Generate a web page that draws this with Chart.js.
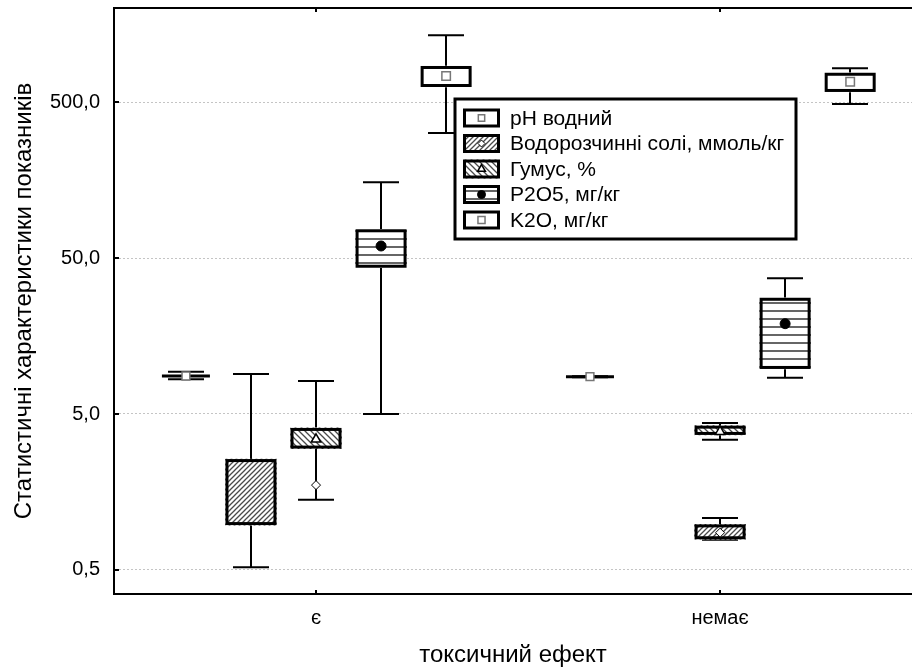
<!DOCTYPE html>
<html>
<head>
<meta charset="utf-8">
<script src="https://cdn.jsdelivr.net/npm/chart.js@4/dist/chart.umd.min.js"></script>
<style>
    html, body { margin: 0; padding: 0; background: #fff; overflow: hidden; }
</style>
</head>
<body>
<canvas id="boxes" width="912" height="670"></canvas>
<script>
// DATA
const categories = ['є', 'немає'];
const seriesNames = ['pH водний', 'Водорозчинні солі, ммоль/кг', 'Гумус, %', 'P2O5, мг/кг', 'K2O, мг/кг'];
const yTicks = [0.5, 5, 50, 500];

// [min, q1, median, q3, max] for "є" and "немає"
const phStats    = [[8.34, 8.68, 8.76, 8.84, 9.34], [8.6, 8.66, 8.67, 8.68, 8.74]];
const saltStats  = [[0.52, 0.97, 1.75, 2.57, 9.02], [0.78, 0.787, 0.867, 0.98, 1.077]];
const humusStats = [[1.41, 3.0, 3.44, 4.07, 8.14], [3.42, 3.67, 3.85, 4.21, 4.38]];
const p2o5Stats  = [[5.0, 43.3, 59.7, 76.4, 152.8], [8.55, 9.72, 18.96, 27.8, 37.1]];
const k2oStats   = [[316, 624, 734, 851, 1338], [486, 580, 674, 770, 822]];
const allStats = [phStats, saltStats, humusStats, p2o5Stats, k2oStats];

// LAYOUT
const STEP = 0.161;                              // gap between boxes inside a group
const boxSlots = [[-2, -1, 0, 1, 2], [-2, 0, 0, 1, 2]];
const markerSlots = [-2, 0, 0, 1, 2];

Chart.defaults.font.family = 'Liberation Sans, Arial, sans-serif';
Chart.defaults.color = '#000';

function makePattern(kind) {
    const c = document.createElement('canvas');
    const g = c.getContext('2d');
    const s = kind === 'lines' ? 8 : (kind === 'fwd' ? 5 : 6);
    c.width = s;
    c.height = s;
    g.fillStyle = '#fff';
    g.fillRect(0, 0, s, s);
    g.strokeStyle = kind === 'lines' ? '#333' : '#4a4a4a';
    g.lineWidth = kind === 'lines' ? 1.5 : 1.3;
    g.beginPath();
    if (kind === 'lines') {
        g.moveTo(0, s - 1); g.lineTo(s, s - 1);
    } else if (kind === 'fwd') {
        g.moveTo(-1, s + 1); g.lineTo(s + 1, -1);
        g.moveTo(-1, 1); g.lineTo(1, -1);
        g.moveTo(s - 1, s + 1); g.lineTo(s + 1, s - 1);
    } else {
        g.moveTo(-1, -1); g.lineTo(s + 1, s + 1);
        g.moveTo(s - 1, -1); g.lineTo(s + 1, 1);
        g.moveTo(-1, s - 1); g.lineTo(1, s + 1);
    }
    g.stroke();
    return g.createPattern(c, 'repeat');
}

const fills = ['#fff', makePattern('fwd'), makePattern('back'), makePattern('lines'), '#fff'];
const markers = [
    { pointStyle: 'rect', radius: 5.5, bg: '#fff', border: '#777', width: 1.5 },
    { pointStyle: 'rectRot', radius: 4.5, bg: '#fff', border: '#000', width: 1 },
    { pointStyle: 'triangle', radius: 5.5, bg: '#fff', border: '#000', width: 1.5 },
    { pointStyle: 'circle', radius: 5, bg: '#000', border: '#000', width: 1 },
    { pointStyle: 'rect', radius: 6, bg: '#fff', border: '#777', width: 1.5 }
];

const barSets = allStats.map(function (st, s) {
    return {
        type: 'bar',
        label: seriesNames[s],
        data: st.map(function (v, c) { return { x: c + boxSlots[c][s] * STEP, y: [v[1], v[3]] }; }),
        backgroundColor: fills[s],
        borderWidth: 0,
        grouped: false,
        barThickness: 51,
        maxBarThickness: 51,
        order: 2
    };
});

const markerSets = allStats.map(function (st, s) {
    const m = markers[s];
    return {
        type: 'scatter',
        label: seriesNames[s],
        data: st.map(function (v, c) { return { x: c + markerSlots[s] * STEP, y: v[2] }; }),
        pointStyle: m.pointStyle,
        pointRadius: m.radius,
        pointBackgroundColor: m.bg,
        pointBorderColor: m.border,
        pointBorderWidth: m.width,
        order: 1
    };
});

// whiskers, box outlines, frame ticks and the legend
const boxPlugin = {
    id: 'boxWhiskers',
    beforeDatasetsDraw(chart) {
        const ctx = chart.ctx;
        const x = chart.scales.x, y = chart.scales.y;
        ctx.save();
        ctx.strokeStyle = '#000';
        ctx.lineWidth = 2;
        allStats.forEach(function (st, s) {
            st.forEach(function (v, c) {
                const px = Math.round(x.getPixelForValue(c + boxSlots[c][s] * STEP));
                const lo = y.getPixelForValue(v[0]);
                const hi = y.getPixelForValue(v[4]);
                ctx.beginPath();
                ctx.moveTo(px, hi); ctx.lineTo(px, lo);
                ctx.moveTo(px - 18, hi); ctx.lineTo(px + 18, hi);
                ctx.moveTo(px - 18, lo); ctx.lineTo(px + 18, lo);
                ctx.stroke();
            });
        });
        ctx.restore();
    },
    afterDatasetDraw(chart, args) {
        if (args.meta.type !== 'bar') return;
        const ctx = chart.ctx;
        ctx.save();
        ctx.strokeStyle = '#000';
        ctx.lineWidth = 3;
        args.meta.data.forEach(function (el) {
            const left = el.x - el.width / 2;
            const top = Math.min(el.y, el.base);
            const h = Math.abs(el.base - el.y);
            if (h > 3) {
                ctx.strokeRect(left + 1.5, top + 1.5, el.width - 3, h - 3);
            } else {
                ctx.strokeRect(left + 1.5, top + h / 2, el.width - 3, 0);
            }
        });
        ctx.restore();
    },
    afterDraw(chart) {
        const ctx = chart.ctx;
        const area = chart.chartArea;
        const x = chart.scales.x, y = chart.scales.y;
        ctx.save();
        ctx.strokeStyle = '#000';
        ctx.lineWidth = 2;
        ctx.beginPath();
        ctx.moveTo(area.left - 1, area.top);
        ctx.lineTo(area.right, area.top);
        // inward tick marks
        yTicks.forEach(function (v) {
            const py = Math.round(y.getPixelForValue(v));
            ctx.moveTo(area.left, py); ctx.lineTo(area.left + 5, py);
        });
        categories.forEach(function (_, i) {
            const px = Math.round(x.getPixelForValue(i));
            ctx.moveTo(px, area.top); ctx.lineTo(px, area.top + 4);
            ctx.moveTo(px, area.bottom); ctx.lineTo(px, area.bottom - 4);
        });
        ctx.stroke();

        // LEGEND
        const lx = 455, ly = 99, lw = 341, lh = 140;
        ctx.fillStyle = '#fff';
        ctx.fillRect(lx, ly, lw, lh);
        ctx.lineWidth = 3;
        ctx.strokeRect(lx, ly, lw, lh);
        ctx.font = '21px Liberation Sans, Arial, sans-serif';
        ctx.textBaseline = 'middle';
        seriesNames.forEach(function (name, i) {
            const cy = ly + 19 + i * 25.5;
            ctx.fillStyle = fills[i];
            ctx.fillRect(463, cy - 9.5, 37, 19);
            ctx.lineWidth = 3;
            ctx.strokeStyle = '#000';
            ctx.strokeRect(464.5, cy - 8, 34, 16);
            const m = markers[i];
            ctx.fillStyle = m.bg;
            ctx.strokeStyle = m.border;
            ctx.lineWidth = m.width;
            Chart.helpers.drawPoint(ctx, { pointStyle: m.pointStyle, radius: m.radius - 1, borderWidth: m.width, rotation: 0 }, 481.5, cy);
            ctx.fillStyle = '#000';
            ctx.fillText(name, 510, cy + 1);
        });
        ctx.restore();
    }
};

new Chart(document.getElementById('boxes'), {
    type: 'bar',
    data: { datasets: barSets.concat(markerSets) },
    options: {
        responsive: false,
        animation: false,
        devicePixelRatio: 1,
        events: [],
        layout: { autoPadding: false, padding: { top: 8, right: 0, bottom: 0, left: 0 } },
        plugins: {
            legend: { display: false },
            tooltip: { enabled: false }
        },
        scales: {
            x: {
                type: 'linear',
                min: -0.5,
                max: 1.475,
                bounds: 'data',
                offset: false,
                grid: { display: false, offset: false },
                border: { display: true, color: '#000', width: 2 },
                afterBuildTicks: function (scale) {
                    scale.ticks = categories.map(function (_, i) { return { value: i }; });
                },
                afterFit: function (scale) {
                    scale.height = 76;
                    scale.paddingLeft = 0;
                    scale.paddingRight = 0;
                },
                ticks: {
                    autoSkip: false,
                    maxRotation: 0,
                    padding: 4,
                    font: { size: 20 },
                    callback: function (v) { return categories[v] || ''; }
                },
                title: {
                    display: true,
                    text: 'токсичний ефект',
                    font: { size: 24 },
                    padding: { top: 0, bottom: 0 }
                }
            },
            y: {
                type: 'logarithmic',
                min: 0.3507,
                max: 2003,
                bounds: 'data',
                grid: { color: '#c4c4c4', lineWidth: 1, drawTicks: false },
                border: { display: true, color: '#000', width: 2, dash: [2, 2] },
                afterBuildTicks: function (scale) {
                    scale.ticks = yTicks.map(function (v) { return { value: v }; });
                },
                afterFit: function (scale) {
                    scale.width = 114;
                    scale.paddingTop = 0;
                    scale.paddingBottom = 0;
                },
                ticks: {
                    padding: 14,
                    font: { size: 20 },
                    callback: function (v) { return v.toFixed(1).replace('.', ','); }
                },
                title: {
                    display: true,
                    text: 'Статистичні характеристики показників',
                    font: { size: 24 },
                    padding: { top: 10, bottom: 0 }
                }
            }
        }
    },
    plugins: [boxPlugin]
});
</script>
</body>
</html>
